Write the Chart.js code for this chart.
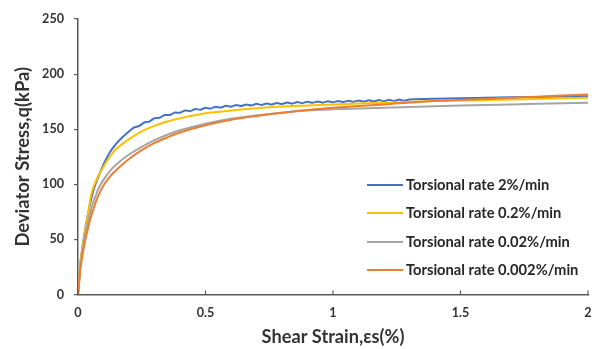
<!DOCTYPE html>
<html>
<head>
<meta charset="utf-8">
<script src="https://cdn.jsdelivr.net/npm/chart.js@4"></script>
<style>
  html, body { margin: 0; padding: 0; background: #fff; }
  #wrap { width: 605px; height: 349px; position: relative; }
</style>
</head>
<body>
<div id="wrap"><canvas id="c" width="605" height="349"></canvas></div>
<script>
// ---- Data ----
const seriesNames = [
  "Torsional rate 2%/min",
  "Torsional rate 0.2%/min",
  "Torsional rate 0.02%/min",
  "Torsional rate 0.002%/min"
];
const seriesColors = ["#4472C4", "#FFC000", "#A5A5A5", "#ED7D31"];

const xTickLabels = ["0", "0.5", "1", "1.5", "2"];
const yTickLabels = ["0", "50", "100", "150", "200", "250"];

// Blue series (2%/min) is noisy, so it has its own denser strain grid
const strainBlue = [0, 0.005, 0.01, 0.02, 0.03, 0.04, 0.05, 0.06, 0.07, 0.08, 0.1, 0.125, 0.15, 0.175,
  0.20, 0.22, 0.24, 0.26, 0.28, 0.30, 0.32, 0.34, 0.36, 0.38, 0.40, 0.42, 0.44, 0.46, 0.48,
  0.50, 0.52, 0.54, 0.56, 0.58, 0.60, 0.62, 0.64, 0.66, 0.68, 0.70, 0.72, 0.74, 0.76, 0.78,
  0.80, 0.82, 0.84, 0.86, 0.88, 0.90, 0.92, 0.94, 0.96, 0.98, 1.00, 1.02, 1.04, 1.06, 1.08,
  1.10, 1.12, 1.14, 1.16, 1.18, 1.20, 1.22, 1.24, 1.26, 1.28, 1.30, 1.40, 1.60, 1.80, 2.00];
const stressBlue = [0, 15, 30, 47, 62, 74, 85, 94, 101, 107, 118, 129, 137, 143,
  148.0, 151.6, 152.9, 156.1, 156.9, 160.1, 160.4, 162.9, 162.9, 165.1, 164.9, 166.9, 166.4, 168.3, 167.7,
  169.4, 168.7, 170.4, 169.6, 171.2, 170.4, 171.9, 171.0, 172.5, 171.6, 173.0, 172.0, 173.4, 172.4, 173.8,
  172.8, 174.2, 173.2, 174.6, 173.6, 175.0, 173.9, 175.2, 174.1, 175.4, 174.4, 175.7, 174.6, 175.9, 174.8,
  176.1, 175.0, 176.3, 175.2, 176.5, 175.4, 176.7, 175.6, 176.9, 175.8, 177.0, 177.6, 178.5, 179.3, 180.0];

// Common strain grid for the other three series (%)
const strain = [0, 0.005, 0.01, 0.02, 0.03, 0.04, 0.05, 0.06, 0.07, 0.08, 0.1, 0.125, 0.15, 0.2, 0.25,
  0.3, 0.35, 0.4, 0.5, 0.6, 0.7, 0.8, 0.9, 1.0, 1.2, 1.4, 1.6, 1.8, 2.0];
const stressYellow = [0, 16, 30, 46, 61, 74, 89, 97, 103, 108, 116, 125, 132, 141, 148,
  153, 157, 160, 164.5, 167, 169, 170.5, 171.5, 172.5, 174, 175.5, 176.5, 177.5, 178.5];
const stressGray = [0, 14, 27, 43, 56, 67, 76, 84, 90, 96, 104, 112, 118, 127, 134,
  140, 145, 149, 155, 159.5, 162.5, 165, 167, 168, 169.5, 170.8, 172, 173, 174];
const stressOrange = [0, 12, 24, 39, 51, 61, 70, 77, 84, 90, 99, 107, 113, 123, 131,
  137.5, 142.5, 147, 153.5, 158.5, 162, 165, 167.5, 169.5, 172.5, 175.5, 177.5, 179.5, 181.5];

// ---- Build datasets ----
function pts(xs, ys) { return xs.map((x, i) => ({ x: x, y: ys[i] })); }
const seriesData = [
  pts(strainBlue, stressBlue),
  pts(strain, stressYellow),
  pts(strain, stressGray),
  pts(strain, stressOrange)
];

const FONT = "Lato, 'Open Sans', sans-serif";
const AXIS = "#595959";
const TXT = "#333333";

// choose a font size so that a text gets the width it has in the reference
const mctx = document.createElement('canvas').getContext('2d');
function fitSize(text, width) {
  mctx.font = "bold 100px " + FONT;
  return Math.round(100 * width / mctx.measureText(text).width * 10) / 10;
}
const legendSize = fitSize(seriesNames[3], 172);
const yTitleSize = fitSize('Deviator Stress,q(kPa)', 180);
const xTitleSize = fitSize('Shear Strain,\u03B5s(%)', 143);
const tickSize = fitSize('150', 22);

const datasets = seriesNames.map((n, i) => ({
  label: n,
  data: seriesData[i],
  borderColor: seriesColors[i],
  backgroundColor: seriesColors[i],
  borderWidth: 2,
  pointRadius: 0,
  tension: i === 0 ? 0.15 : 0.3,
  fill: false,
  order: 4 - i
}));

// Inside tick marks on x axis + legend inside the plot
const extras = {
  id: 'extras',
  afterDraw(chart) {
    const ctx = chart.ctx;
    const xs = chart.scales.x;
    const bottom = chart.chartArea.bottom;
    ctx.save();
    ctx.strokeStyle = AXIS;
    ctx.lineWidth = 1.2;
    xs.ticks.forEach(t => {
      const px = xs.getPixelForValue(t.value);
      ctx.beginPath();
      ctx.moveTo(px, bottom);
      ctx.lineTo(px, bottom - 4);
      ctx.stroke();
    });
    // legend
    const rowsY = [185, 213, 242, 270];
    ctx.font = "bold " + legendSize + "px " + FONT;
    ctx.textBaseline = 'middle';
    ctx.textAlign = 'left';
    seriesNames.forEach((n, i) => {
      ctx.strokeStyle = seriesColors[i];
      ctx.lineWidth = 2;
      ctx.beginPath();
      ctx.moveTo(367, rowsY[i]);
      ctx.lineTo(403, rowsY[i]);
      ctx.stroke();
      ctx.fillStyle = "#262626";
      ctx.fillText(n, 406, rowsY[i]);
    });
    ctx.restore();
  }
};

new Chart(document.getElementById('c'), {
  type: 'line',
  data: { datasets: datasets },
  plugins: [extras],
  options: {
    responsive: false,
    animation: false,
    devicePixelRatio: 1,
    layout: { padding: { left: 0, right: 17, top: 19, bottom: 0 } },
    plugins: { legend: { display: false }, tooltip: { enabled: false } },
    scales: {
      x: {
        type: 'linear',
        min: 0, max: 2,
        afterBuildTicks(scale) {
          scale.ticks = xTickLabels.map(v => ({ value: parseFloat(v) }));
        },
        afterFit(scale) { scale.height = 54.5; },
        grid: { display: true, drawOnChartArea: false, drawTicks: false },
        border: { display: true, color: AXIS, width: 1.5 },
        ticks: {
          padding: 11,
          color: TXT,
          font: { family: FONT, size: tickSize, weight: 'bold' },
          maxRotation: 0,
          callback: (v) => xTickLabels.find(s => parseFloat(s) === v) ?? ''
        },
        title: {
          display: true,
          text: 'Shear Strain,\u03B5s(%)',
          color: TXT,
          font: { family: FONT, size: xTitleSize, weight: 'bold' },
          padding: { top: 0, bottom: 1 }
        }
      },
      y: {
        type: 'linear',
        min: 0, max: 250,
        afterBuildTicks(scale) {
          scale.ticks = yTickLabels.map(v => ({ value: parseFloat(v) }));
        },
        afterFit(scale) { scale.width = 78; },
        grid: { display: true, drawOnChartArea: false, drawTicks: true, tickLength: 4, color: AXIS, lineWidth: 1.2 },
        border: { display: true, color: AXIS, width: 1.5 },
        ticks: {
          padding: 10,
          color: TXT,
          font: { family: FONT, size: tickSize, weight: 'bold' },
          callback: (v) => yTickLabels.find(s => parseFloat(s) === v) ?? ''
        },
        title: {
          display: true,
          text: 'Deviator Stress,q(kPa)',
          color: TXT,
          font: { family: FONT, size: yTitleSize, weight: 'bold' },
          padding: { top: 12, bottom: 0 }
        }
      }
    }
  }
});
</script>
</body>
</html>
